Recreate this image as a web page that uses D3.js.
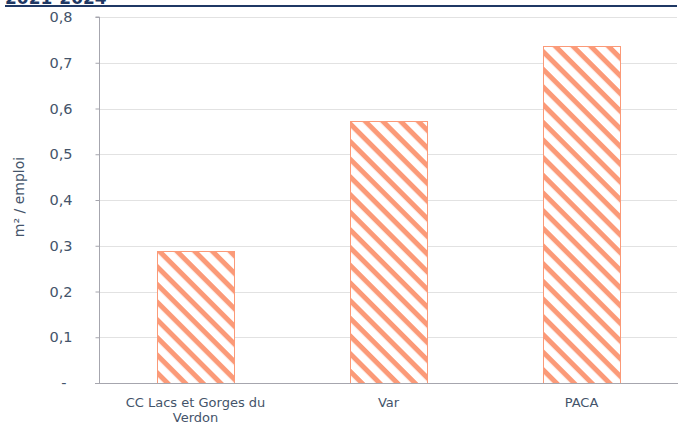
<!DOCTYPE html>
<html><head><meta charset="utf-8">
<script src="https://cdn.jsdelivr.net/npm/d3@7"></script>
<style>html,body{margin:0;padding:0;background:#fff;}svg{display:block;}</style>
</head><body>
<svg id="chart" width="678" height="426"></svg>
<script>
const title = "2021-2024";
const categories = ["CC Lacs et Gorges du Verdon", "Var", "PACA"];
const categoryLines = [["CC Lacs et Gorges du", "Verdon"], ["Var"], ["PACA"]];
const values = [0.289, 0.573, 0.737];
const yTicks = [0, 0.1, 0.2, 0.3, 0.4, 0.5, 0.6, 0.7, 0.8];
const yTitle = "m² / emploi";

const svg = d3.select("#chart");
const textColor = "#44546a";
const barColor = "#fb9a78";
const font = "'DejaVu Sans', Verdana, sans-serif";

const x = d3.scaleBand().domain(categories).range([99, 678]).paddingInner(0.6).paddingOuter(0.3);
const y = d3.scaleLinear().domain([0, 0.8]).range([383, 17]);

// pattern (downward diagonal "\")
const defs = svg.append("defs");
const pat = defs.append("pattern").attr("id", "stripes")
  .attr("patternUnits", "userSpaceOnUse")
  .attr("width", 12.5).attr("height", 12.5)
  .attr("patternTransform", "rotate(45)");
pat.append("rect").attr("width", 12.5).attr("height", 12.5).attr("fill", "#fff");
pat.append("rect").attr("x", 0).attr("y", 0).attr("width", 12.5).attr("height", 5).attr("fill", barColor);

// title
svg.append("text").attr("x", 5).attr("y", 4).text(title)
  .attr("font-family", font).attr("font-weight", "bold").attr("font-size", 17).attr("fill", "#1f3864");
svg.append("line").attr("x1", 5).attr("x2", 677).attr("y1", 6).attr("y2", 6)
  .attr("stroke", "#1f3864").attr("stroke-width", 2);

// gridlines
svg.append("g").selectAll("line").data(yTicks.filter(d => d > 0)).join("line")
  .attr("x1", 99).attr("x2", 677).attr("y1", d => Math.round(y(d)) + 0.5).attr("y2", d => Math.round(y(d)) + 0.5)
  .attr("stroke", "#e2e2e2").attr("stroke-width", 1);

// y axis
const yAxis = d3.axisLeft(y).tickValues(yTicks).tickSize(4).tickPadding(0)
  .tickFormat(d => d === 0 ? "-" : d3.format(".1f")(d).replace(".", ","));
const gy = svg.append("g").attr("transform", "translate(99.5,0)").call(yAxis);
gy.select(".domain").attr("stroke", "#a6a6ae").attr("d", `M-4,${y(0.8)}H0V${y(0)}`);
gy.selectAll(".tick line").attr("stroke", "#a6a6ae");
gy.selectAll(".tick text").attr("fill", textColor).attr("font-family", font).attr("font-size", 14.5)
  .attr("x", d => d === 0 ? -33 : -27);

// bars
svg.append("g").selectAll("rect").data(values).join("rect")
  .attr("x", (d, i) => Math.round(x(categories[i])) + 0.5)
  .attr("y", d => Math.round(y(d)) + 0.5)
  .attr("width", Math.round(x.bandwidth()))
  .attr("height", d => Math.round(y(0)) - Math.round(y(d)))
  .attr("fill", "url(#stripes)").attr("stroke", barColor).attr("stroke-width", 1);

// x axis
svg.append("line").attr("x1", 95).attr("x2", 678).attr("y1", Math.round(y(0)) + 0.5).attr("y2", Math.round(y(0)) + 0.5)
  .attr("stroke", "#a6a6ae");

const xl = svg.append("g").selectAll("text").data(categories).join("text")
  .attr("text-anchor", "middle").attr("fill", textColor).attr("font-family", font).attr("font-size", 13)
  .attr("transform", d => `translate(${x(d) + x.bandwidth() / 2},0)`);
xl.each(function(d, i) {
  const t = d3.select(this);
  categoryLines[i].forEach((line, j) => {
    t.append("tspan").attr("x", 0).attr("y", 407 + j * 14.5).text(line);
  });
});

// y title
svg.append("text").attr("transform", "translate(24,197) rotate(-90)").attr("text-anchor", "middle")
  .attr("fill", textColor).attr("font-family", font).attr("font-size", 14).text(yTitle);
</script>
</body></html>
